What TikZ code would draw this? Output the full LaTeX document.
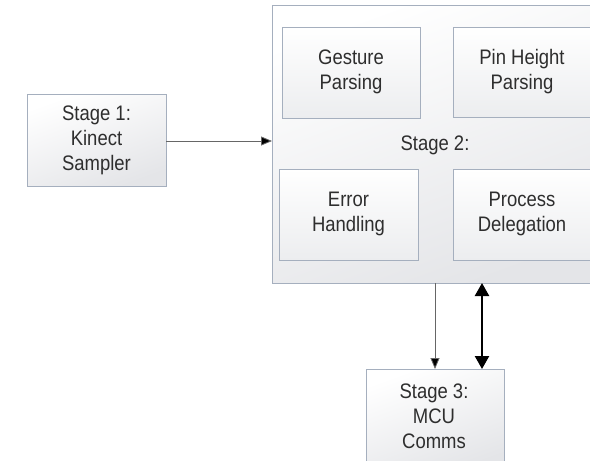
\documentclass[tikz,border=0pt]{standalone}
\usepackage{fontspec}
\setmainfont[FakeStretch=0.88]{Liberation Sans}
\usetikzlibrary{arrows.meta}
\definecolor{edgegray}{RGB}{165,175,190}
\definecolor{shadegray}{RGB}{228,229,232}
\definecolor{subgray}{RGB}{236,237,239}
\tikzset{
  panel/.style={draw=edgegray, line width=0.9pt, top color=white, bottom color=shadegray, shading angle=20, inner sep=0pt},
  sub/.style={draw=edgegray, line width=0.9pt, top color=white, bottom color=subgray, inner sep=0pt},
  lbl/.style={font=\fontsize{21}{25}\selectfont, text=black!82, align=center},
  thinarrow/.style={draw=black!60, line width=0.8pt, -{Triangle[length=11pt,width=9pt,fill=black]}},
  boldarrow/.style={draw=black, line width=2.4pt, {Triangle[length=13pt,width=14pt]}-{Triangle[length=13pt,width=14pt]}}
}
\begin{document}
\begin{tikzpicture}[x=1pt,y=-1pt]
\useasboundingbox (0,0) rectangle (590,461);
\fill[white] (0,0) rectangle (590,461);
\clip (0,0) rectangle (590,461);

% Stage 1
\path[panel] (27,94) rectangle (166,186);
\node[lbl] (s1) at (96.5,140) {Stage 1:\\Kinect\\Sampler};
\coordinate (s1r) at (166,141);

% Stage 2 container
\path[panel] (272,5) rectangle (600,283);
\node[lbl] (s2) at (435,145) {Stage 2:};
\coordinate (s2l) at (272,141);

% Sub-blocks
\path[sub] (282,27) rectangle (420,118);
\node[lbl] (gp) at (351,72) {Gesture\\Parsing};
\path[sub] (453,27) rectangle (592,117);
\node[lbl] (ph) at (522,72) {Pin Height\\Parsing};
\path[sub] (279,169) rectangle (418,260);
\node[lbl] (eh) at (348.5,214) {Error\\Handling};
\path[sub] (453,169) rectangle (592,260);
\node[lbl] (pd) at (522,214) {Process\\Delegation};

% Stage 3
\path[panel] (366,369) rectangle (504,470);
\node[lbl] (s3) at (434,416) {Stage 3:\\MCU\\Comms};

% Connectors
\coordinate (a1) at (435,283);
\coordinate (a2) at (435,369);
\coordinate (b1) at (482,283);
\coordinate (b2) at (482,369);
\draw[thinarrow] (s1r) -- (s2l);
\draw[thinarrow] (a1) -- (a2);
\draw[boldarrow] (b1) -- (b2);
\end{tikzpicture}
\end{document}
